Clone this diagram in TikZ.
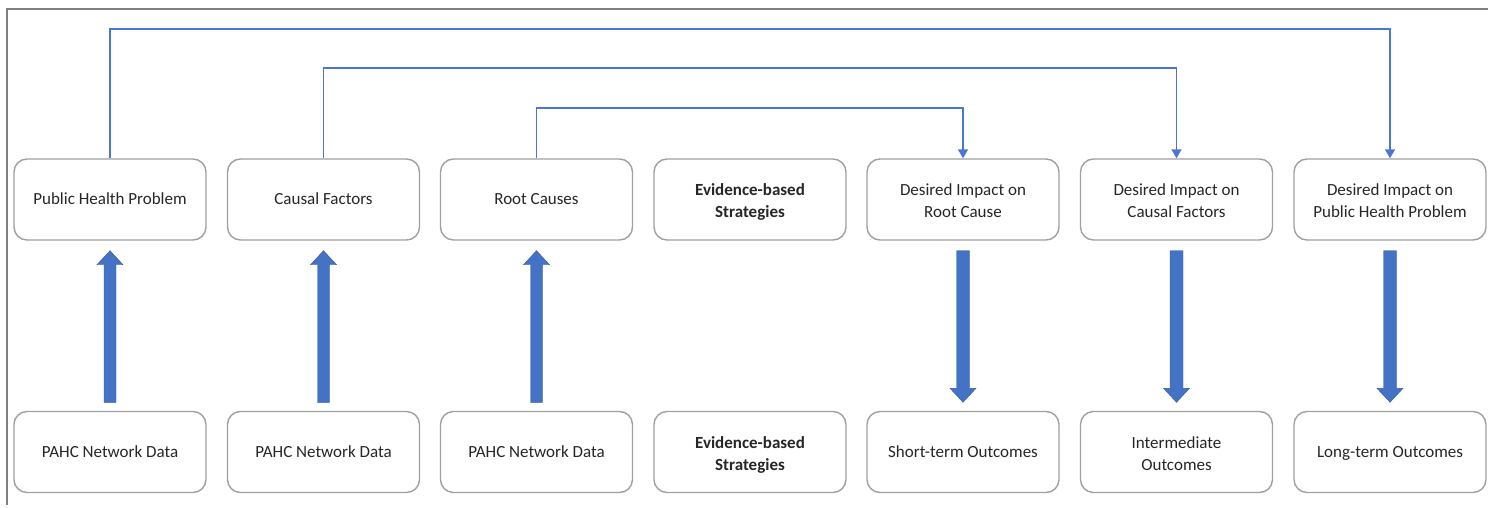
\documentclass[tikz,border=0pt]{standalone}
\usepackage{fontspec}
\setmainfont{Carlito}
\usetikzlibrary{arrows.meta,calc}
\definecolor{ablue}{HTML}{4472C4}
\definecolor{lblue}{HTML}{4A78D0}
\definecolor{bgray}{HTML}{A0A0A0}
\definecolor{fgray}{HTML}{808080}
\newcommand\onel[1]{\raisebox{-1pt}[\height][\depth]{\strut#1}}
\newcommand\twol[2]{\raisebox{-3pt}[\height][\depth]{\begin{tabular}{@{}c@{}}#1\\#2\end{tabular}}}
\begin{document}
\begin{tikzpicture}[x=1pt,y=-1pt,
  box/.style={draw=bgray,line width=1.4pt,rounded corners=13pt,minimum width=192pt,minimum height=81pt,
    align=center,font=\fontsize{17}{22}\selectfont,text=black!85,inner sep=2pt},
  conn/.style={draw=lblue,line width=1.5pt,-{Triangle[length=9pt,width=10pt]}},
  fat/.style={fill=ablue,draw=ablue!80!black,line width=0.4pt}]
\useasboundingbox (0,0) rectangle (1488,508);
\draw[fgray,line width=2pt] (7,505) -- (7,9) -- (1488,9);
% top row
\node[box] (t1) at (110,199.5) {\onel{Public Health Problem}};
\node[box] (t2) at (323.5,199.5) {\onel{Causal Factors}};
\node[box] (t3) at (536.5,199.5) {\onel{Root Causes}};
\node[box] (t4) at (750,199.5) {\twol{\bfseries Evidence-based}{\bfseries Strategies}};
\node[box] (t5) at (963,199.5) {\twol{Desired Impact on}{Root Cause}};
\node[box] (t6) at (1176.5,199.5) {\twol{Desired Impact on}{Causal Factors}};
\node[box] (t7) at (1390,199.5) {\twol{Desired Impact on}{Public Health Problem}};
% bottom row
\node[box] (b1) at (110,452) {\onel{PAHC Network Data}};
\node[box] (b2) at (323.5,452) {\onel{PAHC Network Data}};
\node[box] (b3) at (536.5,452) {\onel{PAHC Network Data}};
\node[box] (b4) at (750,452) {\twol{\bfseries Evidence-based}{\bfseries Strategies}};
\node[box] (b5) at (963,452) {\onel{Short-term Outcomes}};
\node[box] (b6) at (1176.5,452) {\twol{Intermediate}{Outcomes}};
\node[box] (b7) at (1390,452) {\onel{Long-term Outcomes}};
% top connectors
\coordinate (c1) at (110,29);
\coordinate (c2) at (323.5,68);
\coordinate (c3) at (536.5,108);
\draw[conn] (t1.north) -- (c1) -| (t7.north);
\draw[conn] (t2.north) -- (c2) -| (t6.north);
\draw[conn] (t3.north) -- (c3) -| (t5.north);
% fat up arrows
\foreach \i in {1,2,3}{
  \path[fat] ($(b\i.north)+(-6,-8.5)$) -- ($(t\i.south)+(-6,24)$) -- ($(t\i.south)+(-13,24)$)
    -- ($(t\i.south)+(0,10)$) -- ($(t\i.south)+(13,24)$) -- ($(t\i.south)+(6,24)$)
    -- ($(b\i.north)+(6,-8.5)$) -- cycle;
}
% fat down arrows
\foreach \i in {5,6,7}{
  \path[fat] ($(t\i.south)+(-6.5,10)$) -- ($(b\i.north)+(-6.5,-22.5)$) -- ($(b\i.north)+(-13,-22.5)$)
    -- ($(b\i.north)+(0,-8.5)$) -- ($(b\i.north)+(13,-22.5)$) -- ($(b\i.north)+(6.5,-22.5)$)
    -- ($(t\i.south)+(6.5,10)$) -- cycle;
}
\end{tikzpicture}
\end{document}
